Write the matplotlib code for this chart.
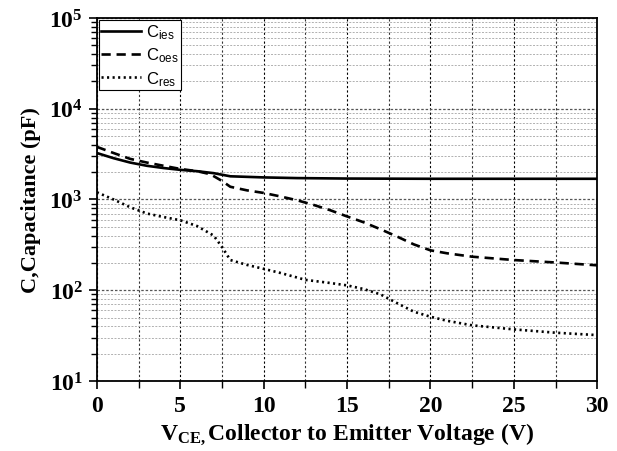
import numpy as np
import matplotlib
matplotlib.use("Agg")
import matplotlib.pyplot as plt
from matplotlib.ticker import LogLocator, MultipleLocator

# values (V, pF)
vce_ies = [0, 1, 2, 3, 4, 5, 6, 7, 8, 10, 12, 15, 20, 25, 30]
c_ies = [3250, 2850, 2550, 2350, 2220, 2120, 2050, 1950, 1800, 1750, 1720,
         1700, 1690, 1690, 1690]

vce_oes = [0, 1, 2, 3, 4, 5, 6, 6.8, 7.5, 8, 9, 10, 11, 12, 13, 14, 15, 16,
           17, 18, 19, 20, 21, 22.5, 25, 27.5, 30]
c_oes = [3800, 3250, 2800, 2550, 2350, 2170, 2050, 1900, 1600, 1380, 1260,
         1180, 1080, 980, 870, 760, 650, 560, 470, 390, 320, 275, 255, 234,
         215, 202, 188]

vce_res = [0, 1, 2, 3, 4, 5, 6, 7, 7.5, 8, 9, 10, 11, 12, 12.5, 14, 15, 16,
           17, 18, 19, 20, 21, 22.5, 25, 27.5, 30]
c_res = [1200, 1000, 820, 700, 640, 590, 510, 400, 300, 215, 190, 172, 155,
         138, 130, 120, 113, 103, 90, 72, 58, 51, 46, 41, 37, 34, 32]

labels = [r"C$_{\mathsf{ies}}$", r"C$_{\mathsf{oes}}$", r"C$_{\mathsf{res}}$"]

plt.rcParams["mathtext.fontset"] = "custom"
plt.rcParams["mathtext.rm"] = "Liberation Serif:bold"
plt.rcParams["mathtext.it"] = "Liberation Serif:bold"
plt.rcParams["mathtext.bf"] = "Liberation Serif:bold"
plt.rcParams["mathtext.sf"] = "Liberation Sans"

fig = plt.figure(figsize=(6.17, 4.52), dpi=100)
ax = fig.add_axes([0.157, 0.155, 0.811, 0.803])

ax.plot(vce_ies, c_ies, color="black", lw=1.9, ls="-", label=labels[0])
ax.plot(vce_oes, c_oes, color="black", lw=1.9, ls=(0, (3.5, 2.2)), label=labels[1])
ax.plot(vce_res, c_res, color="black", lw=1.9, ls=(0, (0.8, 1.3)), label=labels[2])

ax.set_yscale("log")
ax.set_xlim(0, 30)
ax.set_ylim(10, 1e5)

ax.xaxis.set_major_locator(MultipleLocator(5))
ax.xaxis.set_minor_locator(MultipleLocator(2.5))
ax.yaxis.set_major_locator(LogLocator(base=10, numticks=10))
ax.yaxis.set_minor_locator(LogLocator(base=10, subs=np.arange(2, 10), numticks=20))

ax.grid(True, which="major", axis="x", color="black", ls=(0, (2, 2)), lw=0.8)
ax.grid(True, which="minor", axis="x", color="#333333", ls=(0, (2, 2)), lw=0.8)
ax.grid(True, which="major", axis="y", color="#555555", ls=(0, (2, 1.5)), lw=0.9)
ax.grid(True, which="minor", axis="y", color="#b0b0b0", ls=(0, (2, 1.5)), lw=0.7)

ax.tick_params(axis="both", which="major", direction="out", length=6, width=1.2,
               labelsize=17, pad=4)
ax.tick_params(axis="both", which="minor", direction="out", length=4, width=1)
ax.tick_params(axis="x", which="minor", length=5)
for lab in ax.get_xticklabels() + ax.get_yticklabels():
    lab.set_family("Liberation Serif")
    lab.set_weight("bold")
ax.yaxis.set_major_formatter(plt.FuncFormatter(
    lambda v, p: r"$10^{%d}$" % int(round(np.log10(v)))))

for s in ax.spines.values():
    s.set_linewidth(1.3)

ax.set_xlabel(r"V$_{CE,}$Collector to Emitter Voltage (V)", family="Liberation Serif",
              weight="bold", fontsize=17, labelpad=4)
ax.set_ylabel("C,Capacitance (pF)", family="Liberation Serif", weight="bold",
              fontsize=16, labelpad=6)

leg = ax.legend(loc="upper left", prop={"family": "Liberation Sans", "size": 12},
                handlelength=2.4, handletextpad=0.25, borderaxespad=0.12,
                borderpad=0.15, labelspacing=0.3, fancybox=False, framealpha=1)
leg.get_frame().set_edgecolor("black")
leg.get_frame().set_linewidth(0.8)

fig.savefig("out.png", dpi=100)
